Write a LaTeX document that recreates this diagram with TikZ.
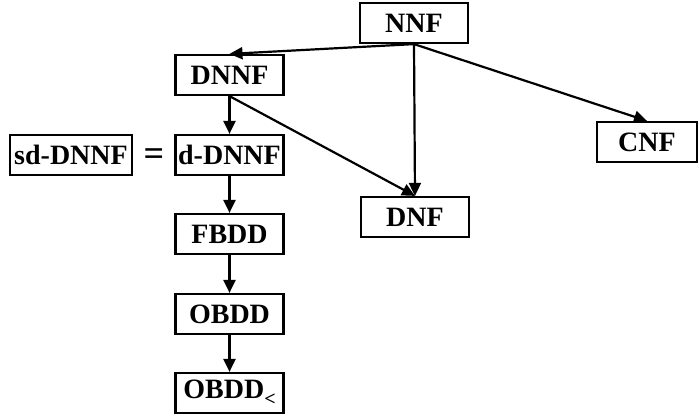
\documentclass[tikz,border=0pt]{standalone}
\usepackage{fontspec}
\setmainfont{Liberation Serif}
\usetikzlibrary{arrows.meta}
\begin{document}
\begin{tikzpicture}[x=1pt,y=-1pt,
  box/.style={draw,line width=2.2pt,inner sep=0pt,minimum width=108pt,minimum height=40pt,font=\fontsize{28}{30}\selectfont\bfseries},
  arr/.style={line width=2.2pt,-{Triangle[length=13pt,width=12pt]}}]
\useasboundingbox (0,0) rectangle (698,416);
\node[box] (nnf) at (414,23) {NNF};
\node[box] (dnnf) at (229.5,75) {DNNF};
\node[box,minimum width=122pt] (sd) at (71,155) {sd-DNNF};
\node[box] (ddnnf) at (229.5,155) {d-DNNF};
\node[font=\fontsize{36}{38}\selectfont\bfseries] (eq) at (154,157) {=};
\node[box,minimum width=100pt] (cnf) at (647,142) {CNF};
\node[box] (dnf) at (415,217) {DNF};
\node[box] (fbdd) at (229.5,234) {FBDD};
\node[box] (obdd) at (229.5,314) {OBDD};
\node[box] (obddl) at (229.5,393) {OBDD\raisebox{-7pt}{\fontsize{20}{22}\selectfont <}};
\draw[arr] (nnf.south) -- (dnnf.north);
\draw[arr] (nnf.south) -- (dnf.north);
\draw[arr] (nnf.south) -- (cnf.north);
\draw[arr] (dnnf.south) -- (dnf.north);
\draw[arr] (dnnf.south) -- (ddnnf.north);
\draw[arr] (ddnnf.south) -- (fbdd.north);
\draw[arr] (fbdd.south) -- (obdd.north);
\draw[arr] (obdd.south) -- (obddl.north);
\end{tikzpicture}
\end{document}
